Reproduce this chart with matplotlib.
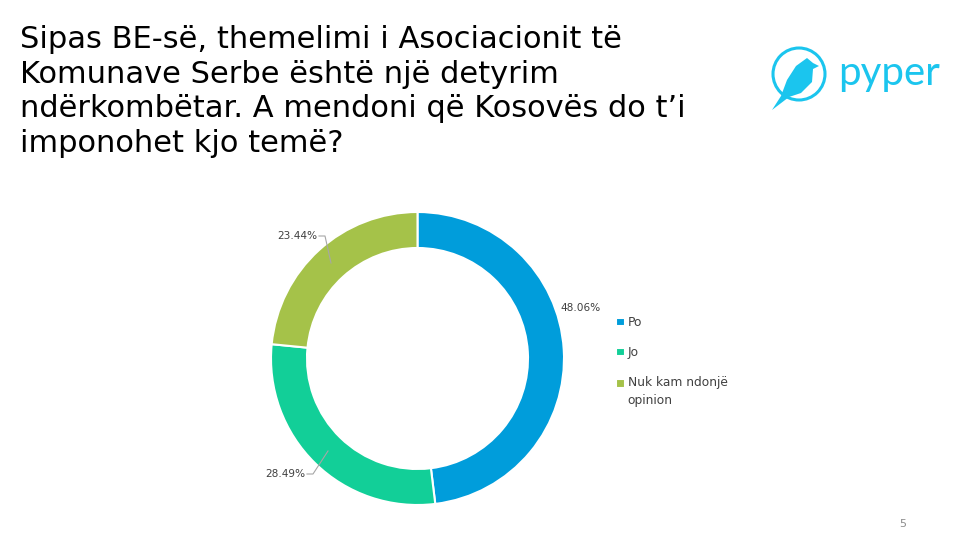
import matplotlib.pyplot as plt
from matplotlib.patches import Circle, Polygon

# data
labels = ["Po", "Jo", "Nuk kam ndonjë\nopinion"]
values = [48.06, 28.49, 23.44]
colors = ["#009DDB", "#12CF98", "#A5C249"]
title = "Sipas BE-së, themelimi i Asociacionit të\nKomunave Serbe është një detyrim\nndërkombëtar. A mendoni që Kosovës do t’i\nimponohet kjo temë?"

fig = plt.figure(figsize=(9.8, 5.51), dpi=100)
ax = fig.add_axes([0, 0, 1, 1])

# donut, drawn in pixel-like coordinates (y flipped -> counterclock=True is clockwise on screen)
wedges, _ = ax.pie(values, colors=colors, startangle=-90, counterclock=True,
                   center=(417.5, 358.5), radius=146.5, frame=True,
                   wedgeprops=dict(width=36, edgecolor="white", linewidth=1.5))
ax.set_xlim(0, 980)
ax.set_ylim(551, 0)
ax.set_aspect("equal")
ax.axis("off")

# value labels with leader lines (leader ends at mid-ring)
label_pos = [(581, 308), (285, 474), (297, 236)]
anchor = [(545, 350), (328, 451), (331, 263)]
for v, (lx, ly), (px, py) in zip(values, label_pos, anchor):
    txt = f"{v:.2f}%"
    ax.text(lx, ly, txt, ha="center", va="center", fontsize=7.6, color="#404040")
    if lx < 417:
        ax.plot([lx + 22, lx + 28, px], [ly, ly, py], color="#A6A6A6", lw=0.8)

# legend
leg = ax.legend(wedges, labels, loc="upper left", bbox_to_anchor=(610 / 980, 1 - 310 / 551),
                frameon=False, handlelength=0.7, handleheight=0.7, handletextpad=0.25,
                labelspacing=1.4, borderpad=0, prop=dict(size=8.8))
for t in leg.get_texts():
    t.set_color("#404040")
    t.set_linespacing(1.45)
# keep the marker of the two-line entry level with its first line
h = leg.legend_handles[2]
h.set_y(h.get_y() + 6.5)

# title
fig.text(20 / 980, 1 - 25 / 551, title, ha="left", va="top", fontsize=22,
         color="black", linespacing=1.24)

# logo
logo = "#1BC5EE"
ax.add_patch(Circle((799, 74), 26, fill=False, edgecolor=logo, lw=2.2))
ax.add_patch(Polygon([(781, 96), (787, 80), (796, 66), (807, 58), (813, 63),
                      (819, 66), (813, 69), (812, 82), (801, 93), (789, 97), (772, 110)],
                     closed=True, facecolor=logo, edgecolor="none"))
ax.text(838, 73, "pyper", ha="left", va="center", fontsize=29, color=logo,
        family="Lato")

# page number
ax.text(903, 524, "5", ha="center", va="center", fontsize=8, color="#8C8C8C")

fig.savefig("out.png", dpi=100)
